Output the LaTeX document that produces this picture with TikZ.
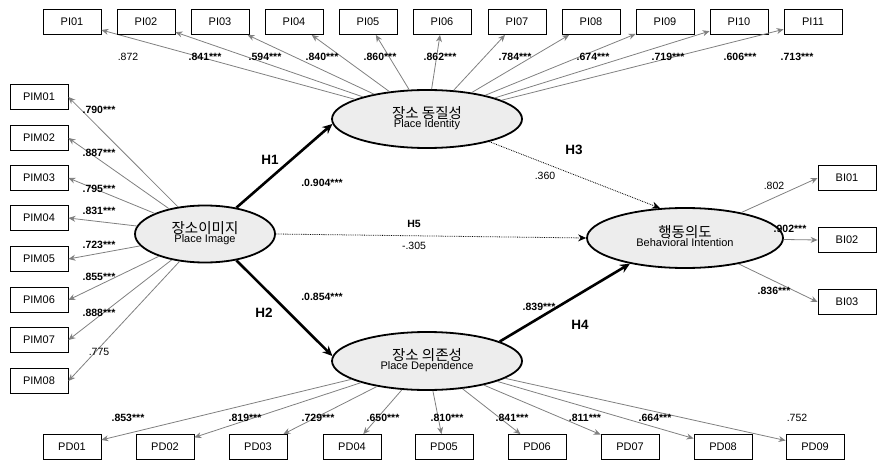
\documentclass[tikz,border=0pt]{standalone}
\usepackage{fontspec}
\setmainfont{Liberation Sans}
\newfontfamily\kr{Noto Sans CJK KR}
\usetikzlibrary{arrows.meta,shapes.geometric}
\begin{document}
\begin{tikzpicture}[x=1pt,y=-1pt,
  box/.style={draw,thick,minimum width=58pt,minimum height=25pt,inner sep=0pt,font=\fontsize{11}{12}\selectfont},
  lat/.style={draw,line width=1.8pt,ellipse,fill=black!7,inner sep=0pt},
  load/.style={draw=black!50,line width=0.8pt,-{Stealth[length=7pt,width=6pt]}},
  path/.style={line width=2.6pt,-{Stealth[length=10pt,width=9pt]}},
  dot/.style={densely dotted,line width=0.8pt,-{Stealth[length=8pt,width=7pt]}},
  lab/.style={font=\fontsize{10.5}{12}\selectfont,inner sep=1pt},
  blab/.style={font=\bfseries\fontsize{10.5}{12}\selectfont,inner sep=1pt},
  hl/.style={font=\bfseries\fontsize{13.5}{15}\selectfont}]
\path[use as bounding box] (0,0) rectangle (885,473);
% latent
\node[lat,minimum width=190pt,minimum height=58pt] (PI) at (427,119) {\begin{tabular}{c}{\kr\fontsize{14.5}{16}\selectfont 장소 동질성}\\[-3pt]{\fontsize{11}{12}\selectfont Place Identity}\end{tabular}};
\node[lat,minimum width=140pt,minimum height=57pt] (IM) at (205,234) {\begin{tabular}{c}{\kr\fontsize{14.5}{16}\selectfont 장소이미지}\\[-3pt]{\fontsize{11}{12}\selectfont Place Image}\end{tabular}};
\node[lat,minimum width=190pt,minimum height=58pt] (PD) at (427,361) {\begin{tabular}{c}{\kr\fontsize{14.5}{16}\selectfont 장소 의존성}\\[-3pt]{\fontsize{11}{12}\selectfont Place Dependence}\end{tabular}};
\node[lat,minimum width=196pt,minimum height=60pt] (BI) at (685,238) {\begin{tabular}{c}{\kr\fontsize{14.5}{16}\selectfont 행동의도}\\[-3pt]{\fontsize{11}{12}\selectfont Behavioral Intention}\end{tabular}};
% PI boxes
\foreach \i/\x in {01/72,02/146,03/220,04/294,05/368,06/442,07/517,08/591,09/665,10/739,11/813}{
  \node[box] (PI\i) at (\x,22) {PI\i};
  \draw[load] (PI) -- (PI\i);
}
\foreach \t/\x/\s in {.872/128/lab,.841***/205/blab,.594***/265/blab,.840***/322/blab,.860***/380/blab,.862***/440/blab,.784***/515/blab,.674***/593/blab,.719***/668/blab,.606***/740/blab,.713***/797/blab}{
  \node[\s] at (\x,57) {\t};
}
% PIM boxes
\foreach \i/\y in {01/97,02/138,03/178,04/218,05/259,06/300,07/340,08/381}{
  \node[box] (PIM\i) at (39,\y) {PIM\i};
  \draw[load] (IM) -- (PIM\i.east);
}
\foreach \t/\y/\s in {.790***/110/blab,.887***/153/blab,.795***/189/blab,.831***/211/blab,.723***/245/blab,.855***/277/blab,.888***/313/blab,.775/352/lab}{
  \node[\s] at (99,\y) {\t};
}
% PD boxes
\foreach \i/\x in {01/72,02/165,03/258,04/352,05/444,06/537,07/630,08/723,09/815}{
  \node[box] (PD\i) at (\x,447) {PD\i};
  \draw[load] (PD) -- (PD\i);
}
\foreach \t/\x/\s in {.853***/128/blab,.819***/245/blab,.729***/318/blab,.650***/383/blab,.810***/447/blab,.841***/512/blab,.811***/585/blab,.664***/655/blab,.752/797/lab}{
  \node[\s] at (\x,418) {\t};
}
% BI boxes
\foreach \i/\y in {01/178,02/240,03/302}{
  \node[box] (BI\i) at (847,\y) {BI\i};
  \draw[load] (BI) -- (BI\i.west);
}
\node[lab] at (774,186) {.802};
\node[blab] at (790,229) {.902***};
\node[blab] at (774,291) {.836***};
% structural paths
\draw[path] (IM.40) -- (PI.183);
\draw[path] (IM.-40) -- (PD.177);
\draw[path] (PD.15) -- (BI.205);
\draw[dot] (PI.-20) -- (BI.130);
\draw[dot] (IM.0) -- (BI.180);
\node[hl] at (270,160) {H1};
\node[blab] at (322,183) {.0.904***};
\node[hl] at (264,313) {H2};
\node[blab] at (322,297) {.0.854***};
\node[hl] at (574,150) {H3};
\node[lab] at (545,176) {.360};
\node[blab] at (414,224) {H5};
\node[lab] at (414,246) {-.305};
\node[hl] at (580,325) {H4};
\node[blab] at (539,307) {.839***};
\end{tikzpicture}
\end{document}
